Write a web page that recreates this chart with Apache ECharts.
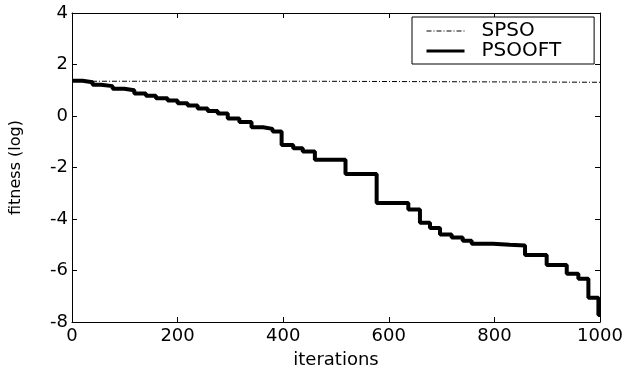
<!DOCTYPE html>
<html>
<head>
<meta charset="utf-8">
<script src="https://cdn.jsdelivr.net/npm/echarts@6/dist/echarts.min.js"></script>
<style>
html,body{margin:0;padding:0;background:#fff;}
#chart{width:628px;height:374px;}
</style>
</head>
<body>
<div id="chart"></div>
<script>
// Data
var seriesNames = ['SPSO', 'PSOOFT'];
var xTicks = [0, 200, 400, 600, 800, 1000];
var yTicks = [-8, -6, -4, -2, 0, 2, 4];

var spsoX = [0, 450, 1000];
var spsoY = [1.35, 1.31, 1.31];

var psoX = [0, 20, 39, 55, 77, 99, 118, 140, 159, 181, 200, 219, 238, 257, 276, 295, 317, 340, 362, 380, 397, 419, 437, 460, 518, 577, 637, 659, 678, 697, 719, 740, 757, 797, 829, 858, 899, 937, 959, 978, 997, 1000];
var psoY = [1.37, 1.31, 1.21, 1.16, 1.06, 1.0, 0.87, 0.79, 0.69, 0.6, 0.5, 0.41, 0.29, 0.19, 0.1, -0.1, -0.23, -0.44, -0.5, -0.6, -1.13, -1.25, -1.38, -1.7, -2.25, -3.38, -3.63, -4.15, -4.35, -4.6, -4.72, -4.84, -4.96, -5.0, -5.03, -5.4, -5.79, -6.13, -6.32, -7.06, -7.73, -7.73];

function pairs(xs, ys) { return xs.map(function (x, i) { return [x, ys[i]]; }); }

var font = 'DejaVu Sans';
var chart = echarts.init(document.getElementById('chart'), null, {renderer: 'canvas'});
var axisCommon = {
  type: 'value',
  axisLine: {show: true, onZero: false, lineStyle: {color: '#000', width: 1}},
  axisTick: {show: true, inside: true, length: 5, lineStyle: {color: '#000'}},
  splitLine: {show: false}
};
chart.setOption({
  backgroundColor: '#fff',
  animation: false,
  grid: {left: 72, right: 28, top: 13, bottom: 41, containLabel: false},
  legend: {
    data: [
      {name: seriesNames[0], lineStyle: {width: 1}},
      {name: seriesNames[1], lineStyle: {width: 3}}
    ],
    orient: 'vertical',
    left: 412, top: 17,
    padding: [4, 33, 3, 13],
    itemWidth: 38, itemHeight: 20, itemGap: 0,
    backgroundColor: '#fff',
    borderColor: '#000', borderWidth: 1, borderRadius: 0,
    itemStyle: {opacity: 0, borderWidth: 0},
    textStyle: {fontFamily: font, fontSize: 20, color: '#000', padding: [0, 0, 0, 12]}
  },
  xAxis: [
    Object.assign({}, axisCommon, {
      min: xTicks[0], max: xTicks[xTicks.length - 1], interval: 200, position: 'bottom',
      axisLabel: {color: '#000', fontFamily: font, fontSize: 18, margin: 5,
        formatter: function (v) { return String(v); }},
      name: 'iterations', nameLocation: 'middle', nameGap: 29,
      nameTextStyle: {color: '#000', fontFamily: font, fontSize: 18}
    }),
    Object.assign({}, axisCommon, {
      min: xTicks[0], max: xTicks[xTicks.length - 1], interval: 200, position: 'top',
      axisLabel: {show: false}
    })
  ],
  yAxis: [
    Object.assign({}, axisCommon, {
      min: yTicks[0], max: yTicks[yTicks.length - 1], interval: 2, position: 'left',
      axisLabel: {color: '#000', fontFamily: font, fontSize: 18, margin: 4},
      name: 'fitness (log)', nameLocation: 'middle', nameGap: 48,
      nameTextStyle: {color: '#000', fontFamily: font, fontSize: 16}
    }),
    Object.assign({}, axisCommon, {
      min: yTicks[0], max: yTicks[yTicks.length - 1], interval: 2, position: 'right',
      axisLabel: {show: false}
    })
  ],
  series: [
    {
      name: seriesNames[0], type: 'line', step: 'end', showSymbol: false, symbol: 'none',
      data: pairs(spsoX, spsoY),
      lineStyle: {color: '#000', width: 1, type: [5, 2, 1, 2]},
      itemStyle: {color: '#000'}
    },
    {
      name: seriesNames[1], type: 'line', step: 'end', showSymbol: false, symbol: 'none',
      data: pairs(psoX, psoY),
      lineStyle: {color: '#000', width: 4},
      itemStyle: {color: '#000'}
    }
  ]
});
</script>
</body>
</html>
